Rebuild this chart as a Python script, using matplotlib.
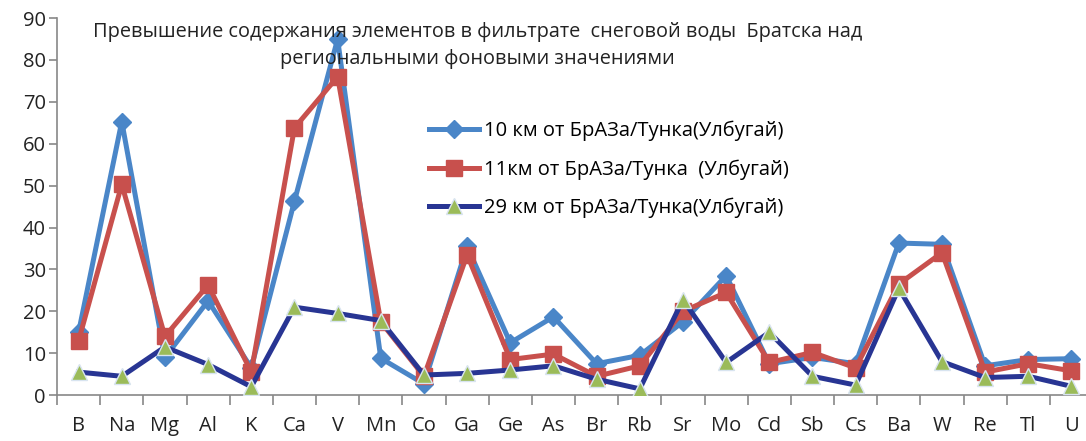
import matplotlib
matplotlib.use("Agg")
import matplotlib.pyplot as plt
import numpy as np

plt.rcParams['font.family'] = ['Open Sans', 'DejaVu Sans']

elements = ["B", "Na", "Mg", "Al", "K", "Ca", "V", "Mn", "Co", "Ga", "Ge", "As",
            "Br", "Rb", "Sr", "Mo", "Cd", "Sb", "Cs", "Ba", "W", "Re", "Tl", "U"]
km10 = [15, 65.3, 9, 22.5, 6.5, 46.3, 85, 8.8, 2.7, 35.5, 12.5, 18.7,
        7.5, 9.5, 17.5, 28.5, 7.5, 9, 7.5, 36.3, 36, 7, 8.5, 8.7]
km11 = [13, 50.3, 14, 26.3, 5.5, 63.8, 76, 17.5, 4.5, 33.5, 8.5, 9.8,
        4.5, 7, 20, 24.5, 7.8, 10.2, 6.5, 26.5, 34, 5.5, 7.5, 5.8]
km29 = [5.5, 4.5, 11.5, 7.3, 2, 21, 19.5, 17.8, 4.8, 5.2, 6, 7,
        3.8, 1.5, 22.8, 7.8, 15, 4.5, 2.4, 25.5, 8, 4.2, 4.5, 2.1]
labels = ["10 км от БрАЗа/Тунка(Улбугай)",
          "11км от БрАЗа/Тунка  (Улбугай)",
          "29 км от БрАЗа/Тунка(Улбугай)"]
title = "Превышение содержания элементов в фильтрате  снеговой воды  Братска над\nрегиональными фоновыми значениями"

fig = plt.figure(figsize=(10.86, 4.41), dpi=100)
ax = fig.add_axes([0.0525, 0.104, 0.954, 0.855])

x = np.arange(len(elements))
ax.plot(x, km10, color="#4A86C8", lw=3.6, marker="D", ms=9.5,
        mfc="#4A86C8", mec="#4A86C8", label=labels[0], zorder=3)
ax.plot(x, km11, color="#C8504D", lw=3.6, marker="s", ms=11.5,
        mfc="#C8504D", mec="#C8504D", label=labels[1], zorder=4)
ax.plot(x, km29, color="#283593", lw=3.6, marker="^", ms=11,
        mfc="#9BBB59", mec="#D8E4F0", mew=1, label=labels[2], zorder=5)

ax.set_xlim(-0.5, len(elements) - 0.5)
ax.set_ylim(0, 90)
ax.set_yticks(range(0, 91, 10))
ax.set_xticks(x)
ax.set_xticklabels(elements)
ax.set_xticks(np.arange(-0.5, len(elements), 1), minor=True)
ax.tick_params(axis="x", which="major", length=0, pad=15, labelsize=14.5, colors="#222222")
ax.tick_params(axis="x", which="minor", length=7, width=1.2, color="#888888")
ax.tick_params(axis="y", length=6, width=1.2, color="#888888", labelsize=14.5,
               labelcolor="#222222", pad=2)
for s in ["top", "right"]:
    ax.spines[s].set_visible(False)
for s in ["left", "bottom"]:
    ax.spines[s].set_color("#888888")
    ax.spines[s].set_linewidth(1.2)

fig.text(0.44, 0.897, title, ha="center", va="center", fontsize=14.3,
         linespacing=1.45, color="#222222")

ax.legend(loc="upper left", bbox_to_anchor=(0.345, 0.765), frameon=False,
          fontsize=14.5, handlelength=2.5, labelspacing=0.9, handletextpad=0.25,
          borderpad=0.2)

fig.savefig("out.png", dpi=100)
